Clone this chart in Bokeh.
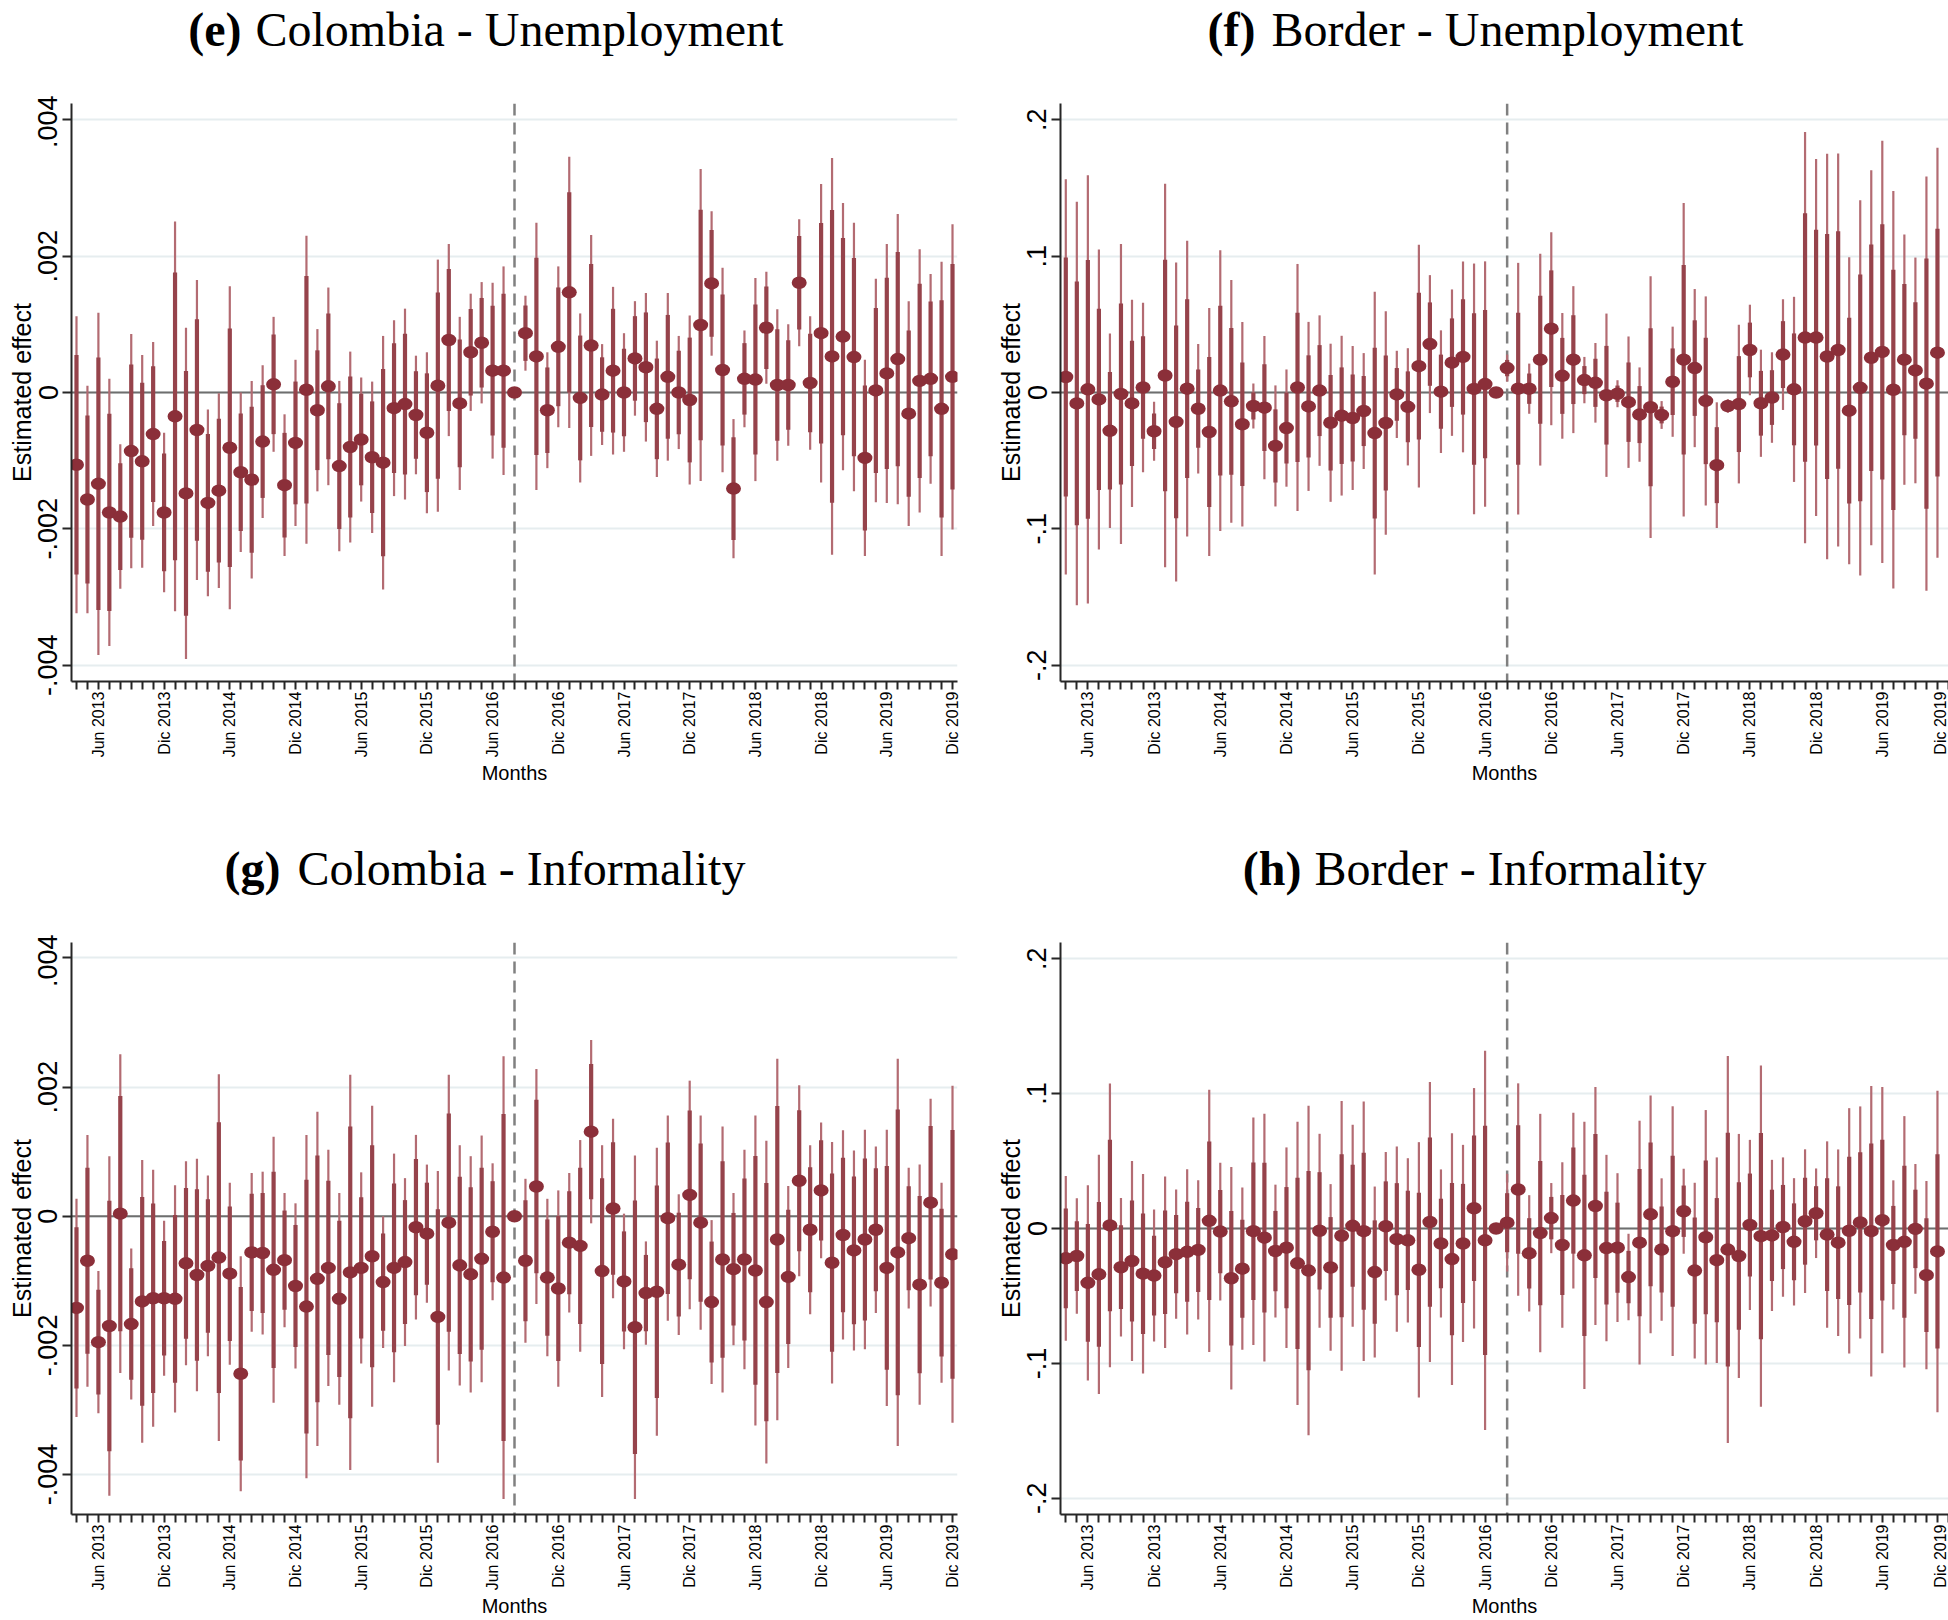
import math
from bokeh.plotting import figure
from bokeh.models import ColumnDataSource, FixedTicker, Span
from bokeh.layouts import column, row
from bokeh.embed import file_html
from bokeh.resources import INLINE
from bokeh.core.properties import value

# ---------------- data ----------------
month_abbr = ["Ene", "Feb", "Mar", "Abr", "May", "Jun", "Jul", "Ago", "Sep", "Oct", "Nov", "Dic"]
start_year, start_month, n_months = 2013, 4, 81
month_labels = []
for i in range(n_months):
    k = start_month - 1 + i
    month_labels.append(f"{month_abbr[k % 12]} {start_year + k // 12}")
event_month = "Ago 2016"

panel_tags = ["(e)", "(f)", "(g)", "(h)"]
panel_names = ["Colombia - Unemployment", "Border - Unemployment",
               "Colombia - Informality", "Border - Informality"]
y_title = "Estimated effect"
x_title = "Months"

ytick_small = [-0.004, -0.002, 0.0, 0.002, 0.004]
ytick_small_labels = ["-.004", "-.002", "0", ".002", ".004"]
ytick_large = [-0.2, -0.1, 0.0, 0.1, 0.2]
ytick_large_labels = ["-.2", "-.1", "0", ".1", ".2"]

# critical values (outer / inner interval)
crit_outer_col, crit_inner_col = 2.75, 2.03
crit_outer_bor, crit_inner_bor = 4.60, 2.78

# (e) Colombia - Unemployment: estimate and outer-interval half width
e_est = [-0.00106, -0.00157, -0.00134, -0.00176, -0.00182, -0.00086, -0.00101, -0.00061, -0.00176, -0.00035,
         -0.00148, -0.00055, -0.00162, -0.00144, -0.00081, -0.00117, -0.00128, -0.00072, 0.00012, -0.00136,
         -0.00074, 0.00004, -0.00026, 0.00009, -0.00108, -0.00080, -0.00069, -0.00095, -0.00103, -0.00023,
         -0.00017, -0.00033, -0.00059, 0.00010, 0.00077, -0.00016, 0.00059, 0.00073, 0.00032, 0.00032,
         0.0, 0.00087, 0.00053, -0.00026, 0.00067, 0.00147, -0.00008, 0.00069, -0.00003, 0.00032,
         0.0, 0.00050, 0.00037, -0.00024, 0.00023, 0.0, -0.00011, 0.00099, 0.00160, 0.00033,
         -0.00141, 0.00020, 0.00019, 0.00095, 0.00011, 0.00011, 0.00161, 0.00014, 0.00087, 0.00053,
         0.00082, 0.00052, -0.00096, 0.00003, 0.00028, 0.00049, -0.00031, 0.00017, 0.00020, -0.00024,
         0.00023]
e_hw = [0.00218, 0.00167, 0.00251, 0.00196, 0.00106, 0.00172, 0.00156, 0.00135, 0.00117, 0.00286,
        0.00243, 0.00220, 0.00137, 0.00143, 0.00237, 0.00117, 0.00145, 0.00112, 0.00099, 0.00104,
        0.00122, 0.00226, 0.00119, 0.00145, 0.00125, 0.00140, 0.00091, 0.00111, 0.00186, 0.00129,
        0.00140, 0.00087, 0.00118, 0.00185, 0.00141, 0.00127, 0.00086, 0.00089, 0.00129, 0.00153,
        0.0, 0.00055, 0.00196, 0.00085, 0.00118, 0.00199, 0.00124, 0.00162, 0.00074, 0.00123,
        0.00087, 0.00084, 0.00109, 0.00100, 0.00123, 0.00083, 0.00124, 0.00229, 0.00106, 0.00150,
        0.00102, 0.00071, 0.00149, 0.00082, 0.00111, 0.00089, 0.00093, 0.00098, 0.00219, 0.00291,
        0.00196, 0.00197, 0.00144, 0.00164, 0.00190, 0.00213, 0.00165, 0.00193, 0.00154, 0.00216,
        0.00224]

# (f) Border - Unemployment (last month lies beyond the visible edge)
f_est = [0.0114, -0.0080, 0.0023, -0.0051, -0.0281, -0.0011, -0.0080, 0.0037, -0.0284, 0.0125,
         -0.0216, 0.0028, -0.0119, -0.0290, 0.0014, -0.0065, -0.0233, -0.0099, -0.0111, -0.0392,
         -0.0261, 0.0037, -0.0102, 0.0014, -0.0222, -0.0170, -0.0187, -0.0136, -0.0298, -0.0224,
         -0.0014, -0.0105, 0.0193, 0.0355, 0.0006, 0.0219, 0.0261, 0.0026, 0.0062, 0.0,
         0.0179, 0.0028, 0.0028, 0.0241, 0.0468, 0.0122, 0.0241, 0.0091, 0.0071, -0.0020,
         -0.0009, -0.0071, -0.0162, -0.0108, -0.0165, 0.0079, 0.0241, 0.0179, -0.0062, -0.0533,
         -0.0099, -0.0085, 0.0312, -0.0079, -0.0037, 0.0278, 0.0023, 0.0403, 0.0403, 0.0264,
         0.0312, -0.0133, 0.0034, 0.0255, 0.0298, 0.0020, 0.0241, 0.0162, 0.0065, 0.0292]
f_hw = [0.145, 0.148, 0.157, 0.110, 0.0713, 0.110, 0.076, 0.0622, 0.0216, 0.1406,
        0.117, 0.1085, 0.0475, 0.091, 0.103, 0.089, 0.075, 0.0165, 0.0526, 0.0444,
        0.043, 0.0906, 0.062, 0.0552, 0.058, 0.0586, 0.0528, 0.0425, 0.1037, 0.082,
        0.032, 0.043, 0.089, 0.0506, 0.045, 0.0537, 0.070, 0.092, 0.090, 0.0,
        0.0099, 0.0923, 0.0184, 0.0777, 0.0708, 0.0461, 0.0539, 0.017, 0.0292, 0.0599,
        0.0099, 0.0482, 0.0346, 0.096, 0.0102, 0.0404, 0.115, 0.058, 0.0767, 0.0461,
        0.005, 0.0582, 0.0332, 0.0393, 0.0332, 0.0406, 0.0679, 0.1508, 0.1309, 0.1487,
        0.1441, 0.1126, 0.1377, 0.1375, 0.1548, 0.1458, 0.0918, 0.0828, 0.152, 0.1504]

# (g) Colombia - Informality
g_est = [-0.00142, -0.00069, -0.00195, -0.00170, 0.00004, -0.00167, -0.00132, -0.00127, -0.00127, -0.00128,
         -0.00073, -0.00091, -0.00077, -0.00064, -0.00089, -0.00244, -0.00056, -0.00057, -0.00083, -0.00068,
         -0.00108, -0.00140, -0.00097, -0.00080, -0.00128, -0.00087, -0.00080, -0.00062, -0.00102, -0.00080,
         -0.00071, -0.00017, -0.00027, -0.00156, -0.00010, -0.00076, -0.00090, -0.00066, -0.00024, -0.00095,
         0.0, -0.00069, 0.00046, -0.00095, -0.00112, -0.00041, -0.00046, 0.00131, -0.00085, 0.00012,
         -0.00101, -0.00172, -0.00119, -0.00117, -0.00003, -0.00075, 0.00033, -0.00010, -0.00133, -0.00067,
         -0.00082, -0.00067, -0.00084, -0.00133, -0.00036, -0.00094, 0.00055, -0.00021, 0.00040, -0.00072,
         -0.00029, -0.00053, -0.00036, -0.00021, -0.00080, -0.00056, -0.00034, -0.00106, 0.00021, -0.00103,
         -0.00059]
g_hw = [0.00169, 0.00195, 0.00110, 0.00263, 0.00247, 0.00117, 0.00219, 0.00199, 0.00120, 0.00176,
        0.00158, 0.00180, 0.00140, 0.00284, 0.00141, 0.00182, 0.00123, 0.00126, 0.00206, 0.00104,
        0.00128, 0.00266, 0.00259, 0.00183, 0.00164, 0.00306, 0.00148, 0.00233, 0.00102, 0.00177,
        0.00130, 0.00143, 0.00107, 0.00226, 0.00229, 0.00186, 0.00183, 0.00191, 0.00106, 0.00343,
        0.0, 0.00127, 0.00182, 0.00122, 0.00152, 0.00108, 0.00164, 0.00142, 0.00195, 0.00139,
        0.00105, 0.00266, 0.00080, 0.00223, 0.00159, 0.00109, 0.00177, 0.00166, 0.00127, 0.00206,
        0.00118, 0.00170, 0.00240, 0.00250, 0.00280, 0.00141, 0.00148, 0.00131, 0.00105, 0.00187,
        0.00162, 0.00155, 0.00170, 0.00129, 0.00214, 0.00300, 0.00109, 0.00186, 0.00161, 0.00155,
        0.00261]

# (h) Border - Informality (last month lies beyond the visible edge)
h_est = [-0.0221, -0.0204, -0.0403, -0.0340, 0.0023, -0.0287, -0.0241, -0.0335, -0.0349, -0.0250,
         -0.0190, -0.0173, -0.0159, 0.0057, -0.0023, -0.0369, -0.0298, -0.0020, -0.0068, -0.0167,
         -0.0142, -0.0258, -0.0312, -0.0017, -0.0289, -0.0054, 0.0020, -0.0020, -0.0323, 0.0017,
         -0.0079, -0.0088, -0.0306, 0.0048, -0.0111, -0.0227, -0.0111, 0.0150, -0.0088, 0.0,
         0.0043, 0.0289, -0.0184, -0.0034, 0.0077, -0.0122, 0.0207, -0.0199, 0.0167, -0.0145,
         -0.0142, -0.0360, -0.0105, 0.0105, -0.0156, -0.0020, 0.0128, -0.0312, -0.0065, -0.0235,
         -0.0156, -0.0204, 0.0026, -0.0057, -0.0051, 0.0011, -0.0099, 0.0054, 0.0113, -0.0045,
         -0.0105, -0.0017, 0.0045, -0.0020, 0.0062, -0.0122, -0.0099, -0.0003, -0.0346, -0.0170]
h_hw = [0.0611, 0.0428, 0.0723, 0.0887, 0.1052, 0.0514, 0.0742, 0.0739, 0.0489, 0.0635,
        0.0479, 0.0613, 0.0516, 0.0972, 0.0511, 0.0824, 0.0601, 0.0843, 0.0918, 0.0492,
        0.0743, 0.105, 0.1221, 0.0719, 0.0618, 0.100, 0.0749, 0.0962, 0.0634, 0.055,
        0.0687, 0.0609, 0.0946, 0.1038, 0.0549, 0.0933, 0.0731, 0.0891, 0.1406, 0.0,
        0.0362, 0.0787, 0.0431, 0.0884, 0.026, 0.0613, 0.0651, 0.099, 0.0882, 0.0691,
        0.0552, 0.0321, 0.0904, 0.0881, 0.0528, 0.0926, 0.0315, 0.0651, 0.0943, 0.0762,
        0.1434, 0.0905, 0.0631, 0.1265, 0.056, 0.0516, 0.0472, 0.0533, 0.0332, 0.0691,
        0.0691, 0.0909, 0.086, 0.1077, 0.0986, 0.0479, 0.0932, 0.0481, 0.0698, 0.1192]

# ---------------- style ----------------
DOT = "#8b2f39"
THICK = "#96434b"
THIN = "#b36b72"
GRID = "#e6edef"
AXIS = "#262626"
SANS = "Liberation Sans"
SERIF = "Liberation Serif"
PAGE_W = 1948

x_labels = {i: (lab if lab.startswith(("Jun", "Dic")) else "") for i, lab in enumerate(month_labels)}
event_idx = month_labels.index(event_month)


def make_panel(est, hw, crit_out, crit_in, yt, ytl, yr, xr,
               width, height, bl, br, bt, bb, xlab_standoff):
    n = len(est)
    xs = list(range(n))
    ratio = crit_in / crit_out
    src = ColumnDataSource(dict(
        x=xs, est=est,
        lo_o=[e - h for e, h in zip(est, hw)], hi_o=[e + h for e, h in zip(est, hw)],
        lo_i=[e - h * ratio for e, h in zip(est, hw)], hi_i=[e + h * ratio for e, h in zip(est, hw)],
    ))
    p = figure(width=width, height=height, x_range=xr, y_range=yr, title=None,
               toolbar_location=None, output_backend="svg",
               min_border_left=bl, min_border_right=br, min_border_top=bt, min_border_bottom=bb)
    p.outline_line_color = None
    p.background_fill_color = "white"
    p.border_fill_color = "white"
    p.xgrid.visible = False
    p.ygrid.ticker = FixedTicker(ticks=yt)
    p.ygrid.grid_line_color = GRID
    p.ygrid.grid_line_width = 2

    p.add_layout(Span(location=0, dimension="width", line_color="#6e6e6e",
                      line_width=2.2, level="underlay"))
    p.add_layout(Span(location=event_idx, dimension="height", line_color="#808080",
                      line_width=2.5, line_dash="12 7", level="underlay"))

    p.segment(x0="x", y0="lo_o", x1="x", y1="hi_o", source=src, line_color=THIN, line_width=2.2)
    p.segment(x0="x", y0="lo_i", x1="x", y1="hi_i", source=src, line_color=THICK, line_width=4.2)
    p.ellipse(x="x", y="est", width=15, height=12.5, width_units="screen", height_units="screen",
              source=src, fill_color=DOT, line_color=None)

    ya = p.yaxis[0]
    ya.ticker = FixedTicker(ticks=yt)
    ya.major_label_overrides = {v: l for v, l in zip(yt, ytl)}
    ya.major_label_orientation = "parallel"
    ya.major_label_text_font = SANS
    ya.major_label_text_font_size = "27px"
    ya.major_label_text_color = "black"
    ya.major_label_standoff = 5
    ya.major_tick_out = 9
    ya.major_tick_in = 0
    ya.minor_tick_out = 0
    ya.minor_tick_in = 0
    ya.major_tick_line_width = 2
    ya.major_tick_line_color = AXIS
    ya.axis_line_width = 2
    ya.axis_line_color = AXIS
    ya.axis_label = y_title
    ya.axis_label_text_font = SANS
    ya.axis_label_text_font_size = "25px"
    ya.axis_label_text_font_style = "normal"
    ya.axis_label_text_color = "black"
    ya.axis_label_standoff = 0

    xa = p.xaxis[0]
    xa.ticker = FixedTicker(ticks=list(range(n_months)))
    xa.major_label_overrides = x_labels
    xa.major_label_orientation = math.pi / 2
    xa.major_label_text_font = SANS
    xa.major_label_text_font_size = "16px"
    xa.major_label_text_color = "black"
    xa.major_label_standoff = 2
    xa.major_tick_out = 8
    xa.major_tick_in = 0
    xa.minor_tick_out = 0
    xa.minor_tick_in = 0
    xa.major_tick_line_width = 2
    xa.major_tick_line_color = AXIS
    xa.axis_line_width = 2
    xa.axis_line_color = AXIS
    xa.axis_label = x_title
    xa.axis_label_text_font = SANS
    xa.axis_label_text_font_size = "20px"
    xa.axis_label_text_font_style = "normal"
    xa.axis_label_text_color = "black"
    xa.axis_label_standoff = xlab_standoff
    return p


def make_title_row(height, base_y, tags, names, tag_right, name_left):
    t = figure(width=PAGE_W, height=height, x_range=(0, PAGE_W), y_range=(0, height),
               title=None, toolbar_location=None, output_backend="svg",
               x_axis_type=None, y_axis_type=None,
               min_border_left=0, min_border_right=0, min_border_top=0, min_border_bottom=0)
    t.outline_line_color = None
    t.background_fill_color = "white"
    t.border_fill_color = "white"
    t.text(x=tag_right, y=[base_y] * len(tags), text=tags, text_font=value(SERIF),
           text_font_style="bold", text_font_size="48px", text_align="right",
           text_baseline="alphabetic", text_color="black")
    t.text(x=name_left, y=[base_y] * len(names), text=names, text_font=value(SERIF),
           text_font_size="48px", text_align="left",
           text_baseline="alphabetic", text_color="black")
    return t


LW, RW = 989, PAGE_W - 989
TOP_H, BOT_H = 732, 686
left_xr = (-0.456, 80.456)
right_xr = (-0.48, 80.0)

pe = make_panel(e_est, e_hw, crit_outer_col, crit_inner_col,
                ytick_small, ytick_small_labels, (-0.00424, 0.00424), left_xr,
                LW, TOP_H, 71, 32, 8, 146, 2)
pf = make_panel(f_est, f_hw, crit_outer_bor, crit_inner_bor,
                ytick_large, ytick_large_labels, (-0.212, 0.212), right_xr,
                RW, TOP_H, 71, 0, 8, 146, 2)
pg = make_panel(g_est, g_hw, crit_outer_col, crit_inner_col,
                ytick_small, ytick_small_labels, (-0.00462, 0.00424), left_xr,
                LW, BOT_H, 71, 32, 8, 100, 2)
ph = make_panel(h_est, h_hw, crit_outer_bor, crit_inner_bor,
                ytick_large, ytick_large_labels, (-0.212, 0.212), right_xr,
                RW, BOT_H, 71, 0, 8, 100, 2)

title_top = make_title_row(95, 66, panel_tags[:2], panel_names[:2], [241, 1255], [255, 1271])
title_bot = make_title_row(107, 66, panel_tags[2:], panel_names[2:], [280, 1301], [297, 1314])

layout = column(title_top, row(pe, pf), title_bot, row(pg, ph))
open("out.html", "w").write(file_html(layout, INLINE))
